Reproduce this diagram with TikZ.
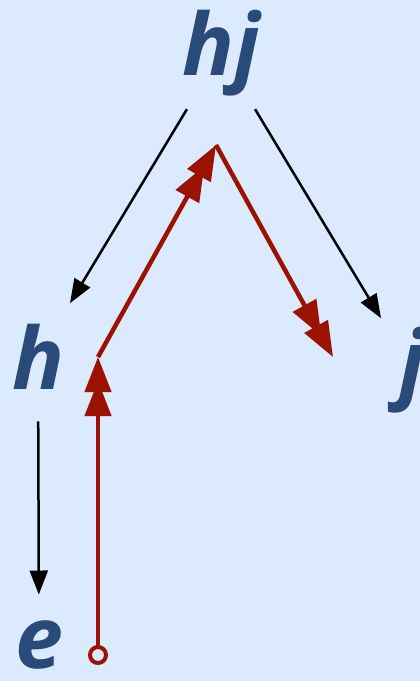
\documentclass[tikz,border=0pt]{standalone}
\usepackage{fontspec}
\setsansfont{Open Sans}
\usetikzlibrary{arrows.meta}

\definecolor{bgblue}{RGB}{219,234,254}
\definecolor{txtblue}{RGB}{42,74,122}
\definecolor{pathred}{RGB}{155,18,0}

\tikzset{
    lbl/.style={font=\sffamily\bfseries\itshape\fontsize{86}{86}\selectfont,
        text=txtblue, inner sep=0pt, anchor=base},
    blk/.style={-{Triangle[length=24pt,width=18pt]}, line width=2.5pt, black},
    walk/.style={-{Triangle[length=35pt,width=26pt,sep=-11pt]Triangle[length=35pt,width=26pt]},
        line width=4.5pt, pathred},
}

\begin{document}
\begin{tikzpicture}[x=1pt, y=-1pt]

    % Background
    \fill[bgblue] (0,0) rectangle (420,681);
    \useasboundingbox (0,0) rectangle (420,681);

    % Vertices
    \node[lbl] (hj) at (221,75) {hj};
    \node[lbl] (h) at (38,389) {h};
    \node[lbl] (j) at (412,392) {j};
    \node[lbl] (e) at (39,668) {e};

    % Edges
    \draw[blk, shorten <=66pt, shorten >=62pt] (hj.center) -- (h.center);
    \draw[blk, shorten <=66pt, shorten >=60pt] (hj.center) -- (j.center);
    \draw[blk, shorten <=65pt, shorten >=50pt] (h.center) -- (e.center);

    % Walk
    \coordinate (w0) at (98,655);
    \coordinate (w1) at (98,357);
    \coordinate (w2) at (216,145);
    \coordinate (w3) at (333,357);
    \draw[walk, shorten <=8pt] (w0) -- (w1);
    \draw[walk] (w1) -- (w2);
    \draw[walk] (w2) -- (w3);
    \draw[pathred, line width=4pt, fill=bgblue] (w0) circle (8pt);

\end{tikzpicture}
\end{document}
